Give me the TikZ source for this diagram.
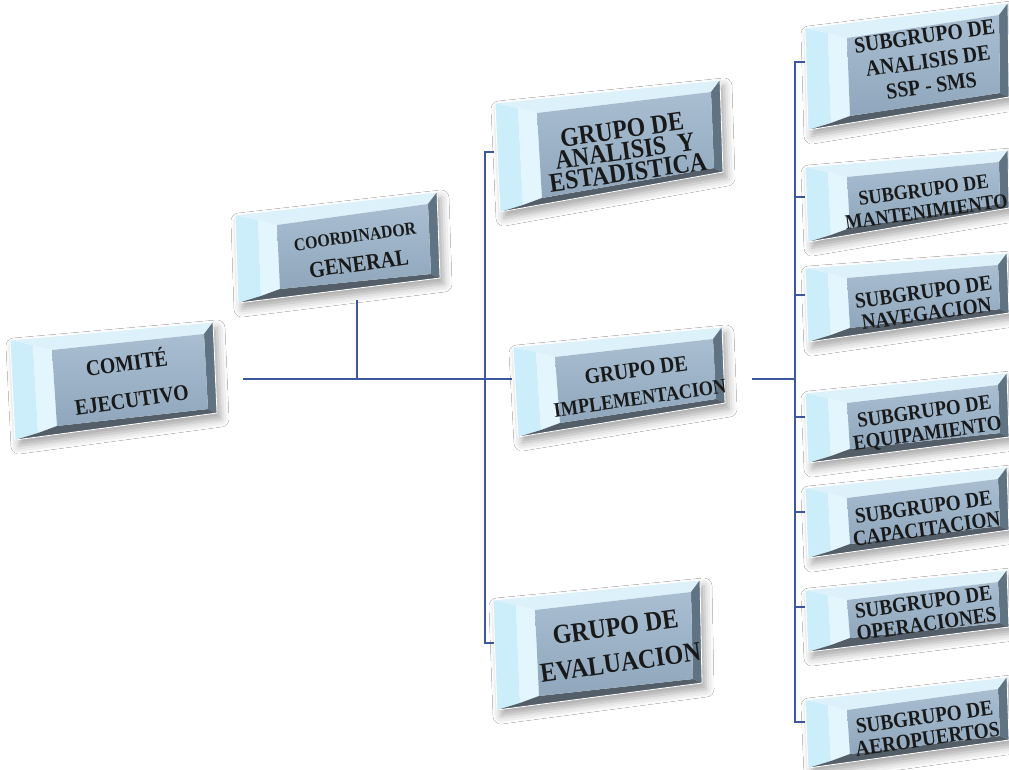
\documentclass[tikz,border=0pt]{standalone}
\usepackage{fontspec}
\setmainfont{Liberation Serif}[FakeStretch=0.88]
\usetikzlibrary{calc,shadows.blur}
\definecolor{lnk}{HTML}{3B58A0}
\definecolor{lfa}{HTML}{CCEDFA}
\definecolor{lfb}{HTML}{E4F6FD}
\definecolor{topf}{HTML}{DDF1FA}
\definecolor{rgtf}{HTML}{5F7383}
\definecolor{botf}{HTML}{535E68}
\definecolor{inA}{HTML}{A9BED1}
\definecolor{inB}{HTML}{8FA6BC}
\tikzset{
  lbl/.style={font=\bfseries\fontsize{21.8}{22}\selectfont, align=center, rotate=8, inner sep=0pt, text=black!90},
  conn/.style={draw=lnk, line width=1.6pt},
}
\newcommand\bevbox[9]{%
  \coordinate (#1-otl) at (#2,#3);
  \coordinate (#1-otr) at (#4,#5);
  \coordinate (#1-obr) at (#6,#7);
  \coordinate (#1-obl) at (#8,#9);
  \coordinate (#1-itl) at ($(#1-otl)+(42,10)$);
  \coordinate (#1-itr) at ($(#1-otr)+(-9,12)$);
  \coordinate (#1-ibr) at ($(#1-obr)+(-9,-4)$);
  \coordinate (#1-ibl) at ($(#1-obl)+(42,-14)$);
  \coordinate (#1-mtl) at ($(#1-otl)+(23,5)$);
  \coordinate (#1-mbl) at ($(#1-obl)+(23,-7)$);
  \path[fill=white, blur shadow={shadow xshift=4pt, shadow yshift=-6pt, shadow blur radius=8pt, shadow opacity=35}]
    (#1-otl) -- (#1-otr) -- (#1-obr) -- (#1-obl) -- cycle;
  \fill[lfa] (#1-otl) -- (#1-mtl) -- (#1-mbl) -- (#1-obl) -- cycle;
  \fill[lfb] (#1-mtl) -- (#1-itl) -- (#1-ibl) -- (#1-mbl) -- cycle;
  \fill[topf] (#1-otl) -- (#1-otr) -- (#1-itr) -- (#1-itl) -- (#1-mtl) -- cycle;
  \fill[rgtf] (#1-otr) -- (#1-obr) -- (#1-ibr) -- (#1-itr) -- cycle;
  \fill[botf] (#1-obl) -- (#1-obr) -- (#1-ibr) -- (#1-ibl) -- (#1-mbl) -- cycle;
  \shade[top color=inA, bottom color=inB] (#1-itl) -- (#1-itr) -- (#1-ibr) -- (#1-ibl) -- cycle;
  \draw[white, line width=0.8pt, line join=round] (#1-otl) -- (#1-otr) -- (#1-obr) -- (#1-obl) -- cycle;
}
\begin{document}
\begin{tikzpicture}[x=1pt,y=-1pt]
\fill[white] (0,0) rectangle (1009,770);
\useasboundingbox (0,0) rectangle (1009,770);

% connector points
\coordinate (comE) at (243,379);
\coordinate (corS) at (357,300);
\coordinate (j1) at (357,379);
\coordinate (j2) at (485,379);
\coordinate (impW) at (512,379);
\coordinate (anaW) at (494,152);
\coordinate (t1) at (485,152);
\coordinate (b1) at (485,643);
\coordinate (evaW) at (494,643);
\coordinate (impE) at (752,379);
\coordinate (j3) at (795,379);
\coordinate (r1) at (795,62); \coordinate (sspW) at (805,62);
\coordinate (r2) at (795,197); \coordinate (manW) at (805,197);
\coordinate (r3) at (795,295); \coordinate (navW) at (805,295);
\coordinate (r4) at (795,417); \coordinate (equW) at (805,417);
\coordinate (r5) at (795,512); \coordinate (capW) at (805,512);
\coordinate (r6) at (795,607); \coordinate (opeW) at (805,607);
\coordinate (r7) at (795,722); \coordinate (aerW) at (805,722);

\draw[conn] (comE) -- (impW);
\draw[conn] (corS) -- (j1);
\draw[conn] (anaW) -- (t1) -- (b1) -- (evaW);
\draw[conn] (impE) -- (j3);
\draw[conn] (sspW) -- (r1) -- (r7) -- (aerW);
\draw[conn] (r2) -- (manW);
\draw[conn] (r3) -- (navW);
\draw[conn] (r4) -- (equW);
\draw[conn] (r5) -- (capW);
\draw[conn] (r6) -- (opeW);

% boxes
\bevbox{com}{10}{340}{213}{322}{217}{413}{15}{440}
\node[lbl, font=\bfseries\fontsize{22.4}{37}\selectfont] (comite) at (129,380) {COMITÉ\\EJECUTIVO};

\bevbox{cor}{235}{215}{437}{192}{440}{278}{238}{303}
\node[lbl, font=\bfseries\fontsize{20}{29}\selectfont] (coord) at (357,251) {{\fontsize{18}{29}\selectfont COORDINADOR}\\{\fontsize{23}{29}\selectfont GENERAL}};

\bevbox{ana}{495}{103}{720}{80}{723}{172}{500}{212}
\node[lbl, font=\bfseries\fontsize{26.9}{21.5}\selectfont] (analisis) at (625,151) {GRUPO DE\\ANALISIS\ \ Y\\ESTADISTICA};

\bevbox{imp}{513}{347}{722}{327}{725}{403}{518}{437}
\node[lbl, font=\bfseries\fontsize{21}{28}\selectfont] (implem) at (638,384) {{\fontsize{22.4}{28}\selectfont GRUPO DE}\\{\fontsize{20.7}{28}\selectfont IMPLEMENTACION}};

\bevbox{eva}{493}{600}{700}{580}{702}{683}{497}{710}
\node[lbl, font=\bfseries\fontsize{27.4}{36}\selectfont] (evalua) at (618,645) {GRUPO DE\\EVALUACION};

\bevbox{ssp}{805}{28}{1008}{3}{1009}{97}{808}{130}
\node[lbl, font=\bfseries\fontsize{22.4}{25}\selectfont] (ssp) at (928,61) {SUBGRUPO DE\\ANALISIS DE\\SSP - SMS};

\bevbox{man}{805}{167}{1008}{150}{1009}{208}{808}{242}
\node[lbl, font=\bfseries\fontsize{20.7}{22}\selectfont] (mant) at (925,201) {SUBGRUPO DE\\MANTENIMIENTO};

\bevbox{nav}{805}{268}{1007}{253}{1009}{313}{808}{342}
\node[lbl] (nav) at (925,303) {SUBGRUPO DE\\NAVEGACION};

\bevbox{equ}{805}{393}{1007}{373}{1009}{437}{808}{463}
\node[lbl, font=\bfseries\fontsize{21.3}{22}\selectfont] (equip) at (926,424) {SUBGRUPO DE\\EQUIPAMIENTO};

\bevbox{cap}{805}{488}{1007}{467}{1009}{530}{808}{558}
\node[lbl] (capac) at (925,518) {SUBGRUPO DE\\CAPACITACION};

\bevbox{ope}{805}{590}{1007}{570}{1009}{627}{808}{652}
\node[lbl] (oper) at (925,613) {SUBGRUPO DE\\OPERACIONES};

\bevbox{aer}{805}{700}{1007}{677}{1009}{740}{808}{768}
\node[lbl] (aero) at (926,728) {SUBGRUPO DE\\AEROPUERTOS};
\end{tikzpicture}
\end{document}
